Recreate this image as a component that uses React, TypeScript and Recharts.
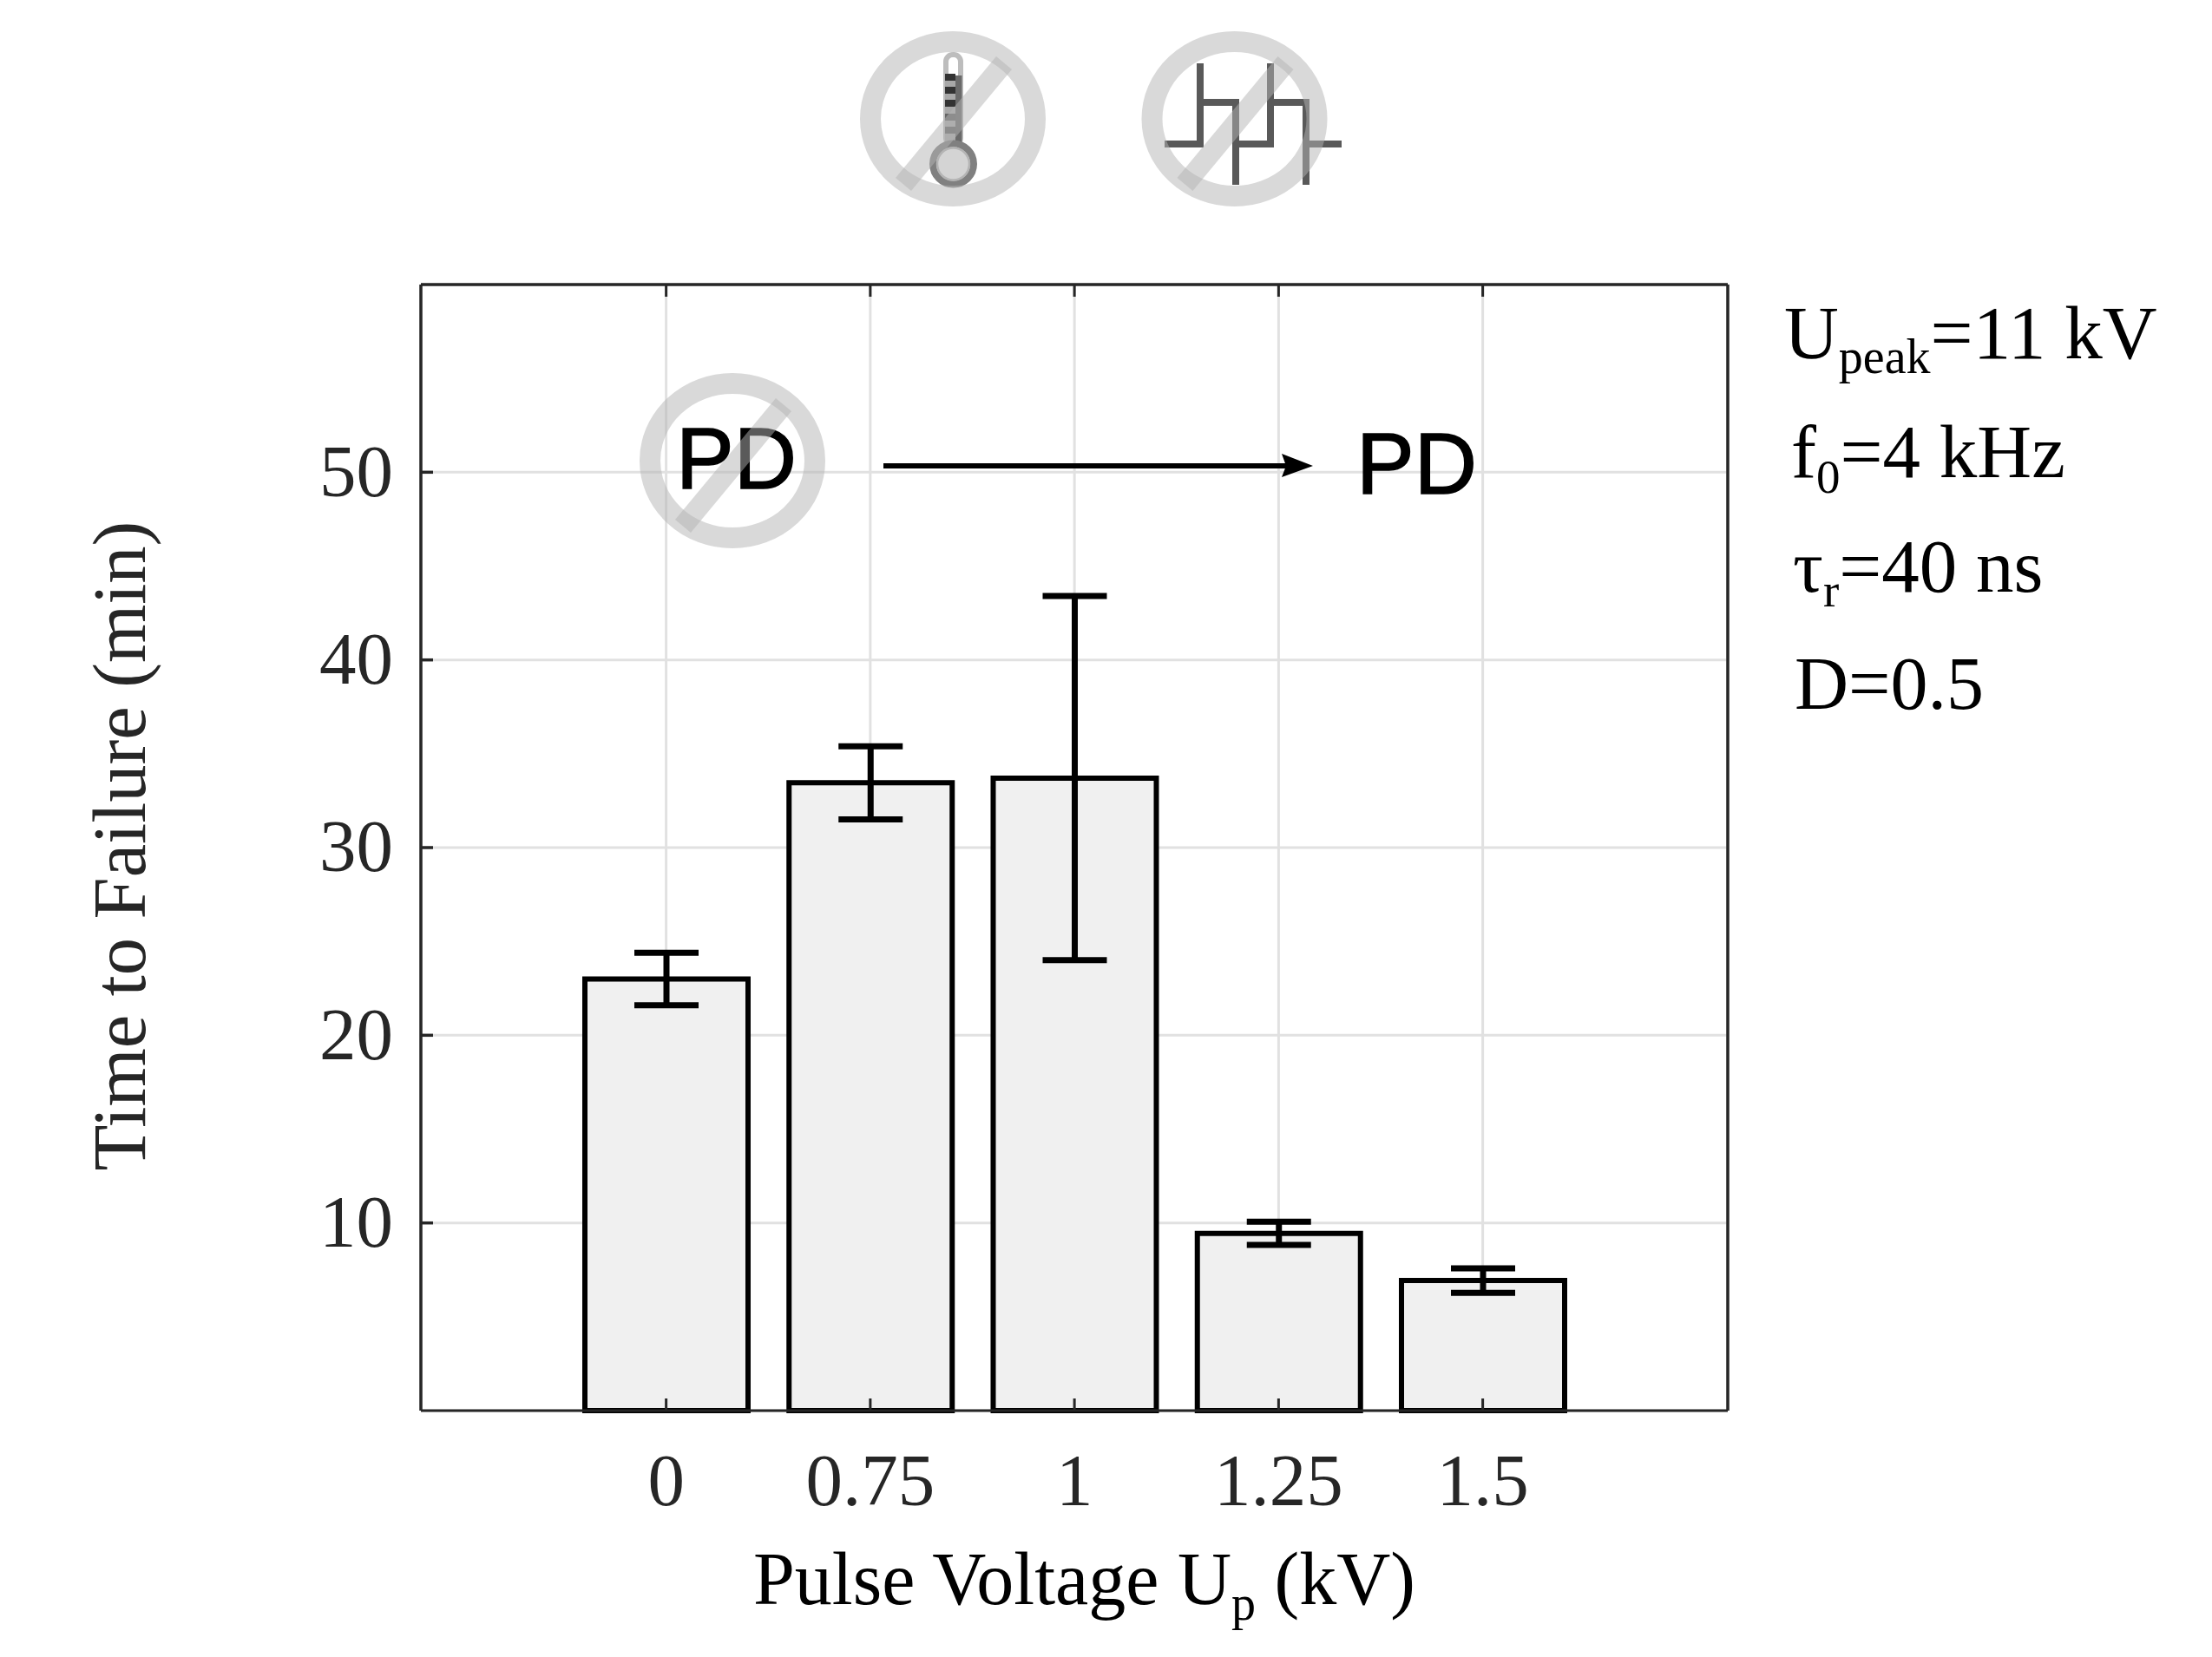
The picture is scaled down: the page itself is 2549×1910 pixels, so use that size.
import React from "react";
import { BarChart, Bar, XAxis, YAxis, CartesianGrid, ErrorBar } from "recharts";

const categories = ["0", "0.75", "1", "1.25", "1.5"];
const timeToFailure = [23.0, 33.46, 33.7, 9.44, 6.93];
const upperBound = [24.4, 35.4, 43.4, 10.07, 7.58];
const lowerBound = [21.6, 31.5, 24.0, 8.83, 6.28];
const yTicks = [10, 20, 30, 40, 50];

const rows = categories.map((voltage, i) => ({
  voltage,
  time: timeToFailure[i],
  err: [timeToFailure[i] - lowerBound[i], upperBound[i] - timeToFailure[i]],
}));

const SERIF = '"Liberation Serif", "Times New Roman", serif';
const SANS = '"Liberation Sans", Arial, sans-serif';
const AXIS = "#262626";

function NoSign({ cx, cy }: { cx: number; cy: number }) {
  const pts = [[50, -72], [68, -57], [-48, 83], [-66, 68]].map(([a, b]) => `${cx + a},${cy + b}`).join(" ");
  return (
    <g>
      <ellipse cx={cx} cy={cy} rx={95} ry={89} fill="none" stroke="rgb(180,180,180)" strokeOpacity={0.5} strokeWidth={24} />
      <polygon points={pts} fill="rgb(180,180,180)" fillOpacity={0.5} />
    </g>
  );
}

function Thermometer() {
  return (
    <g>
      <rect x={1090} y={63} width={17} height={104} rx={8} fill="#fff" stroke="#bdbdbd" strokeWidth={6} />
      <rect x={1089} y={85} width={12} height={80} fill="#a8a8a8" />
      <rect x={1101} y={87} width={7.5} height={81} fill="#6a6a6a" />
      {[[85, "#333"], [100, "#333"], [115, "#333"], [131, "#666"], [146, "#666"]].map(([y, c]) => (
        <rect key={y as number} x={1089} y={y as number} width={12} height={8} fill={c as string} />
      ))}
      <ellipse cx={1098.5} cy={189} rx={23.5} ry={23.5} fill="#d4d4d4" stroke="#808080" strokeWidth={8} />
      <ellipse cx={1098.5} cy={189} rx={18.5} ry={18.5} fill="none" stroke="#b4b4b4" strokeWidth={2.5} />
    </g>
  );
}

function Annotations() {
  return (
    <svg width={2549} height={1910} style={{ position: "absolute", left: 0, top: 0, pointerEvents: "none" }}>
      <Thermometer />
      <NoSign cx={1098} cy={137} />
      <path
        d="M1342 166 H1383 V73 M1379 118 H1424 V213 M1420 166 H1464 V73 M1460 118 H1505 V213 M1501 166 H1546"
        fill="none"
        stroke="#595959"
        strokeWidth={8}
      />
      <NoSign cx={1422.5} cy={137} />

      <text x={779} y={563} fontFamily={SANS} fontSize={100} fill="#000" stroke="#000" strokeWidth={1.5}>PD</text>
      <NoSign cx={844} cy={531} />
      <line x1={1018} y1={537} x2={1484} y2={537} stroke="#000" strokeWidth={6} />
      <polygon points="1513,537 1477,523 1482,537 1477,550" fill="#000" />
      <text x={1563} y={569} fontFamily={SANS} fontSize={100} fill="#000" stroke="#000" strokeWidth={1.5}>PD</text>

      <g fontFamily={SERIF} fontSize={87} fill="#000">
        <text x={2056} y={413}>U<tspan fontSize={56} dy={17}>peak</tspan><tspan dy={-17}>=11 kV</tspan></text>
        <text x={2064} y={550}>f<tspan fontSize={55} dy={18}>0</tspan><tspan dy={-18}>=4 kHz</tspan></text>
        <text x={2066} y={682}>τ<tspan fontSize={55} dy={17}>r</tspan><tspan dy={-17}>=40 ns</tspan></text>
        <text x={2068} y={817} fontSize={86}>D=0.5</text>
      </g>
    </svg>
  );
}

const tickFont = { fontFamily: SERIF, fontSize: 85, fill: AXIS };
const NoLabel = () => <g />;
const PAD = { left: 165, right: 164.75 };

export default function App() {
  return (
    <div style={{ position: "absolute", left: 0, top: 0, width: 2549, height: 1910, background: "#fff", overflow: "hidden" }}>
      <BarChart
        width={2549}
        height={1910}
        data={rows}
        margin={{ left: 185, right: 548, top: 318, bottom: 84 }}
        barSize={188}
      >
        <CartesianGrid stroke="#e1e1e1" strokeWidth={3} yAxisId="main" xAxisId="main" />
        <XAxis
          xAxisId="main"
          dataKey="voltage"
          height={200}
          padding={PAD}
          interval={0}
          tick={tickFont}
          tickSize={-14}
          tickMargin={63}
          axisLine={{ stroke: AXIS, strokeWidth: 3 }}
          tickLine={{ stroke: AXIS, strokeWidth: 3 }}
          label={() => (
            <text x={868} y={1849} fontFamily={SERIF} fontSize={86} fill="#000">
              Pulse Voltage U<tspan fontSize={56} dy={18}>p</tspan><tspan dy={-18}> (kV)</tspan>
            </text>
          )}
        />
        <XAxis
          xAxisId="top"
          orientation="top"
          dataKey="voltage"
          height={10}
          padding={PAD}
          interval={0}
          tick={NoLabel}
          tickSize={-14}
          axisLine={{ stroke: AXIS, strokeWidth: 3.5 }}
          tickLine={{ stroke: AXIS, strokeWidth: 3 }}
        />
        <YAxis
          yAxisId="main"
          width={300}
          domain={[0, 60]}
          ticks={yTicks}
          interval={0}
          tick={{ ...tickFont, dy: -3 }}
          tickSize={-14}
          tickMargin={46}
          axisLine={{ stroke: AXIS, strokeWidth: 3.5 }}
          tickLine={{ stroke: AXIS, strokeWidth: 3.5 }}
          label={() => (
            <text x={167} y={975} transform="rotate(-90 167 975)" textAnchor="middle" fontFamily={SERIF} fontSize={86.5} fill={AXIS}>
              Time to Failure (min)
            </text>
          )}
        />
        <YAxis
          yAxisId="right"
          orientation="right"
          width={10}
          domain={[0, 60]}
          ticks={yTicks}
          interval={0}
          tick={NoLabel}
          tickSize={-14}
          axisLine={{ stroke: AXIS, strokeWidth: 3.5 }}
          tickLine={{ stroke: AXIS, strokeWidth: 3.5 }}
        />
        <Bar xAxisId="main" yAxisId="main" dataKey="time" fill="#f0f0f0" stroke="#000" strokeWidth={6} isAnimationActive={false}>
          <ErrorBar dataKey="err" width={37} stroke="#000" strokeWidth={7} isAnimationActive={false} />
        </Bar>
      </BarChart>
      <Annotations />
    </div>
  );
}
